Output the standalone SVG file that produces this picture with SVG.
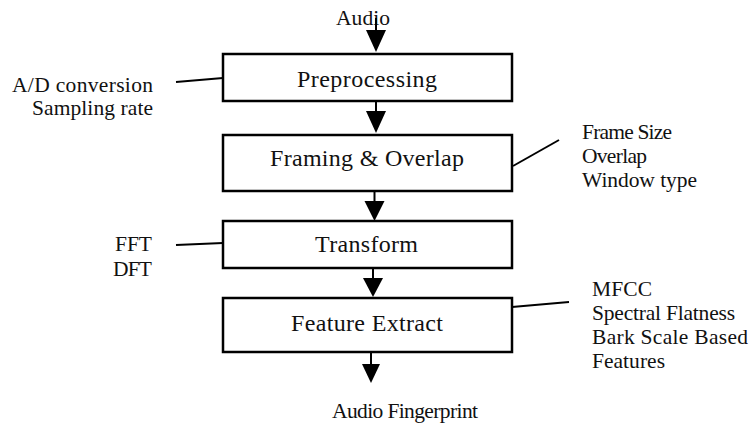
<svg xmlns="http://www.w3.org/2000/svg" width="750" height="425" viewBox="0 0 750 425">
  <defs>
    <style>
      .box { fill: #fff; stroke: #000; stroke-width: 2.5; }
      .title { font-family: "Liberation Serif", "Times New Roman", serif; font-size: 24px; fill: #111; }
      .note { font-family: "Liberation Serif", "Times New Roman", serif; font-size: 21.5px; fill: #111; }
      .flow { stroke: #000; stroke-width: 2; fill: none; }
      .lead { stroke: #000; stroke-width: 2; fill: none; }
      .head { fill: #000; }
    </style>
  </defs>

  <!-- input / output labels -->
  <text class="note" x="336" y="25" textLength="54">Audio</text>
  <text class="note" x="332" y="418" textLength="146">Audio Fingerprint</text>

  <!-- processing stages -->
  <g id="preprocessing">
    <rect class="box" x="223" y="54" width="289" height="47"/>
    <text class="title" x="297" y="87" textLength="140">Preprocessing</text>
  </g>
  <g id="framing">
    <rect class="box" x="223" y="135" width="289" height="56"/>
    <text class="title" x="270" y="166" textLength="194">Framing &amp; Overlap</text>
  </g>
  <g id="transform">
    <rect class="box" x="223" y="221" width="289" height="47"/>
    <text class="title" x="315" y="252" textLength="103">Transform</text>
  </g>
  <g id="feature-extract">
    <rect class="box" x="223" y="298" width="289" height="54"/>
    <text class="title" x="291" y="331" textLength="152">Feature Extract</text>
  </g>

  <!-- parameter notes -->
  <g id="note-preprocessing">
    <text class="note" x="12" y="92" textLength="141">A/D conversion</text>
    <text class="note" x="32" y="115" textLength="121">Sampling rate</text>
  </g>
  <g id="note-framing">
    <text class="note" x="582" y="139" textLength="90">Frame Size</text>
    <text class="note" x="582" y="163" textLength="65">Overlap</text>
    <text class="note" x="582" y="187" textLength="115">Window type</text>
  </g>
  <g id="note-transform">
    <text class="note" x="115" y="251" textLength="37">FFT</text>
    <text class="note" x="113" y="276" textLength="39">DFT</text>
  </g>
  <g id="note-feature">
    <text class="note" x="592" y="296" textLength="60">MFCC</text>
    <text class="note" x="592" y="320" textLength="143">Spectral Flatness</text>
    <text class="note" x="592" y="344" textLength="156">Bark Scale Based</text>
    <text class="note" x="592" y="368" textLength="73">Features</text>
  </g>

  <!-- connectors -->
  <g id="connectors">
    <!-- flow arrows -->
    <line class="flow" x1="376" y1="18" x2="376" y2="31"/>
    <path class="head" d="M366,30 L386,30 L376,52 Z"/>
    <line class="flow" x1="376" y1="101" x2="376" y2="112"/>
    <path class="head" d="M366,111 L386,111 L376,133 Z"/>
    <line class="flow" x1="374.5" y1="191" x2="374.5" y2="202"/>
    <path class="head" d="M364.5,201 L384.5,201 L374.5,221 Z"/>
    <line class="flow" x1="373" y1="268" x2="373" y2="279"/>
    <path class="head" d="M363,278 L383,278 L373,297 Z"/>
    <line class="flow" x1="371" y1="352" x2="371" y2="365"/>
    <path class="head" d="M362,364 L380,364 L371,383 Z"/>
    <!-- note leaders -->
    <line class="lead" x1="176" y1="82" x2="223" y2="78"/>
    <line class="lead" x1="513" y1="166" x2="559" y2="140"/>
    <line class="lead" x1="176" y1="245" x2="223" y2="243"/>
    <line class="lead" x1="512" y1="307" x2="569" y2="302"/>
  </g>
</svg>
